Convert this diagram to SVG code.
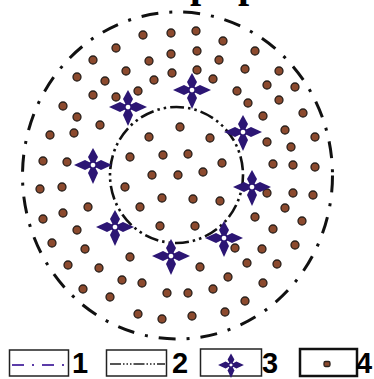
<svg xmlns="http://www.w3.org/2000/svg" width="374" height="379" viewBox="0 0 374 379">
<style>
.d{fill:#8c4a2e;stroke:#2a211c;stroke-width:1.3}
.st{fill:#2c1674}
.lbl{font-family:"Liberation Sans",Arial,sans-serif;font-weight:bold;font-size:29px;fill:#000}
.box{fill:#fff;stroke:#222;stroke-width:1.5}
</style>
<defs>
<g id="star">
<path class="st" d="M2.5,-2.2 L8,-5 L19,0 L8,5 L2.5,2.2 Z"/>
<path class="st" d="M-2.5,-2.2 L-8,-5 L-19,0 L-8,5 L-2.5,2.2 Z"/>
<path class="st" d="M-2.2,2.5 L-5,8 L0,19 L5,8 L2.2,2.5 Z"/>
<path class="st" d="M-2.2,-2.5 L-5,-8 L0,-17 L5,-8 L2.2,-2.5 Z"/>
<circle r="3.2" fill="#fff" stroke="#2c1674" stroke-width="1.8"/>
</g>
</defs>
<rect width="374" height="379" fill="#fff"/>
<g id="title-fragment">
<text x="190" y="-3" font-family="'Liberation Serif',serif" font-weight="bold" font-size="40">p</text>
<text x="238" y="-3" font-family="'Liberation Serif',serif" font-weight="bold" font-size="40">p</text>
</g>
<g id="rings" fill="none" stroke="#111">
<ellipse id="outer-ring" cx="177.5" cy="175.5" rx="155" ry="163.5" stroke-width="3" stroke-dasharray="17 11 3 11"/>
<ellipse id="inner-ring" cx="176.5" cy="175" rx="66.5" ry="68" stroke-width="2.6" stroke-dasharray="14 4 2.5 4 2.5 4"/>
</g>
<g id="dots">
<circle class="d" cx="143" cy="35" r="4"/><circle class="d" cx="171" cy="33" r="4"/><circle class="d" cx="196" cy="31" r="4"/><circle class="d" cx="223" cy="41" r="4"/>
<circle class="d" cx="116" cy="48" r="4"/><circle class="d" cx="171" cy="54" r="4"/><circle class="d" cx="197" cy="51" r="4"/><circle class="d" cx="255" cy="51" r="4"/>
<circle class="d" cx="93" cy="60" r="4"/><circle class="d" cx="149" cy="61" r="4"/><circle class="d" cx="219" cy="60" r="4"/><circle class="d" cx="126" cy="71" r="4"/>
<circle class="d" cx="172" cy="73" r="4"/><circle class="d" cx="197" cy="70" r="4"/><circle class="d" cx="245" cy="69" r="4"/><circle class="d" cx="279" cy="71" r="4"/>
<circle class="d" cx="77" cy="77" r="4"/><circle class="d" cx="105" cy="81" r="4"/><circle class="d" cx="154" cy="80" r="4"/><circle class="d" cx="213" cy="79" r="4"/>
<circle class="d" cx="267" cy="85" r="4"/><circle class="d" cx="295" cy="87" r="4"/><circle class="d" cx="93" cy="95" r="4"/><circle class="d" cx="138" cy="91" r="4"/>
<circle class="d" cx="237" cy="91" r="4"/><circle class="d" cx="116" cy="97" r="4"/><circle class="d" cx="63" cy="106" r="4"/><circle class="d" cx="248" cy="103" r="4"/>
<circle class="d" cx="279" cy="100" r="4"/><circle class="d" cx="303" cy="113" r="4"/><circle class="d" cx="77" cy="117" r="4"/><circle class="d" cx="263" cy="116" r="4"/>
<circle class="d" cx="100" cy="125" r="4"/><circle class="d" cx="50" cy="135" r="4"/><circle class="d" cx="74" cy="133" r="4"/><circle class="d" cx="180" cy="127" r="4"/>
<circle class="d" cx="149" cy="137" r="4"/><circle class="d" cx="210" cy="138" r="4"/><circle class="d" cx="285" cy="130" r="4"/><circle class="d" cx="315" cy="137" r="4"/>
<circle class="d" cx="267" cy="142" r="4"/><circle class="d" cx="291" cy="147" r="4"/><circle class="d" cx="43" cy="161" r="4"/><circle class="d" cx="67" cy="162" r="4"/>
<circle class="d" cx="130" cy="157" r="4"/><circle class="d" cx="163" cy="155" r="4"/><circle class="d" cx="188" cy="154" r="4"/><circle class="d" cx="222" cy="163" r="4"/>
<circle class="d" cx="273" cy="164" r="4"/><circle class="d" cx="293" cy="165" r="4"/><circle class="d" cx="315" cy="167" r="4"/><circle class="d" cx="40" cy="189" r="4"/>
<circle class="d" cx="62" cy="187" r="4"/><circle class="d" cx="125" cy="187" r="4"/><circle class="d" cx="152" cy="175" r="4"/><circle class="d" cx="178" cy="175" r="4"/>
<circle class="d" cx="203" cy="172" r="4"/><circle class="d" cx="162" cy="198" r="4"/><circle class="d" cx="193" cy="199" r="4"/><circle class="d" cx="220" cy="201" r="4"/>
<circle class="d" cx="267" cy="193" r="4"/><circle class="d" cx="293" cy="193" r="4"/><circle class="d" cx="313" cy="195" r="4"/><circle class="d" cx="88" cy="207" r="4"/>
<circle class="d" cx="140" cy="207" r="4"/><circle class="d" cx="285" cy="208" r="4"/><circle class="d" cx="63" cy="213" r="4"/><circle class="d" cx="43" cy="219" r="4"/>
<circle class="d" cx="255" cy="217" r="4"/><circle class="d" cx="302" cy="221" r="4"/><circle class="d" cx="77" cy="230" r="4"/><circle class="d" cx="160" cy="226" r="4"/>
<circle class="d" cx="195" cy="226" r="4"/><circle class="d" cx="273" cy="229" r="4"/><circle class="d" cx="52" cy="243" r="4"/><circle class="d" cx="85" cy="249" r="4"/>
<circle class="d" cx="130" cy="257" r="4"/><circle class="d" cx="235" cy="248" r="4"/><circle class="d" cx="262" cy="249" r="4"/><circle class="d" cx="295" cy="245" r="4"/>
<circle class="d" cx="68" cy="265" r="4"/><circle class="d" cx="99" cy="268" r="4"/><circle class="d" cx="200" cy="267" r="4"/><circle class="d" cx="247" cy="263" r="4"/>
<circle class="d" cx="277" cy="264" r="4"/><circle class="d" cx="122" cy="280" r="4"/><circle class="d" cx="142" cy="283" r="4"/><circle class="d" cx="228" cy="277" r="4"/>
<circle class="d" cx="263" cy="283" r="4"/><circle class="d" cx="83" cy="289" r="4"/><circle class="d" cx="167" cy="293" r="4"/><circle class="d" cx="188" cy="293" r="4"/>
<circle class="d" cx="213" cy="289" r="4"/><circle class="d" cx="110" cy="297" r="4"/><circle class="d" cx="245" cy="301" r="4"/><circle class="d" cx="138" cy="314" r="4"/>
<circle class="d" cx="162" cy="319" r="4"/><circle class="d" cx="192" cy="316" r="4"/><circle class="d" cx="225" cy="312" r="4"/>
</g>
<g id="markers">
<use href="#star" x="192" y="90"/>
<use href="#star" x="128" y="107"/>
<use href="#star" x="243" y="132"/>
<use href="#star" x="93" y="165"/>
<use href="#star" x="252" y="187"/>
<use href="#star" x="115" y="227"/>
<use href="#star" x="171" y="256"/>
<use href="#star" x="224" y="238"/>
</g>
<g id="legend">
<g id="legend-1">
<rect class="box" x="9.5" y="350" width="59" height="26"/>
<line x1="12" y1="365" x2="66" y2="365" stroke="#5b3ca8" stroke-width="2" stroke-dasharray="12 8 2 8"/>
<text class="lbl" x="72" y="372.5">1</text>
</g>
<g id="legend-2">
<rect class="box" x="106.5" y="350" width="60" height="26"/>
<line x1="110" y1="364" x2="165" y2="364" stroke="#555" stroke-width="2" stroke-dasharray="11 2 1.5 2 1.5 2 1.5 2"/>
<text class="lbl" x="172" y="372.5">2</text>
</g>
<g id="legend-3">
<rect class="box" x="200.5" y="349" width="61" height="27"/>
<use href="#star" transform="translate(231 365) scale(0.68)"/>
<text class="lbl" x="262" y="372.5">3</text>
</g>
<g id="legend-4">
<rect x="300" y="349" width="57" height="27" fill="#fff" stroke="#111" stroke-width="2.5"/>
<rect class="d" x="324" y="361.5" width="6" height="5" rx="1.5"/>
<text class="lbl" x="356" y="372.5">4</text>
</g>
</g>
</svg>
